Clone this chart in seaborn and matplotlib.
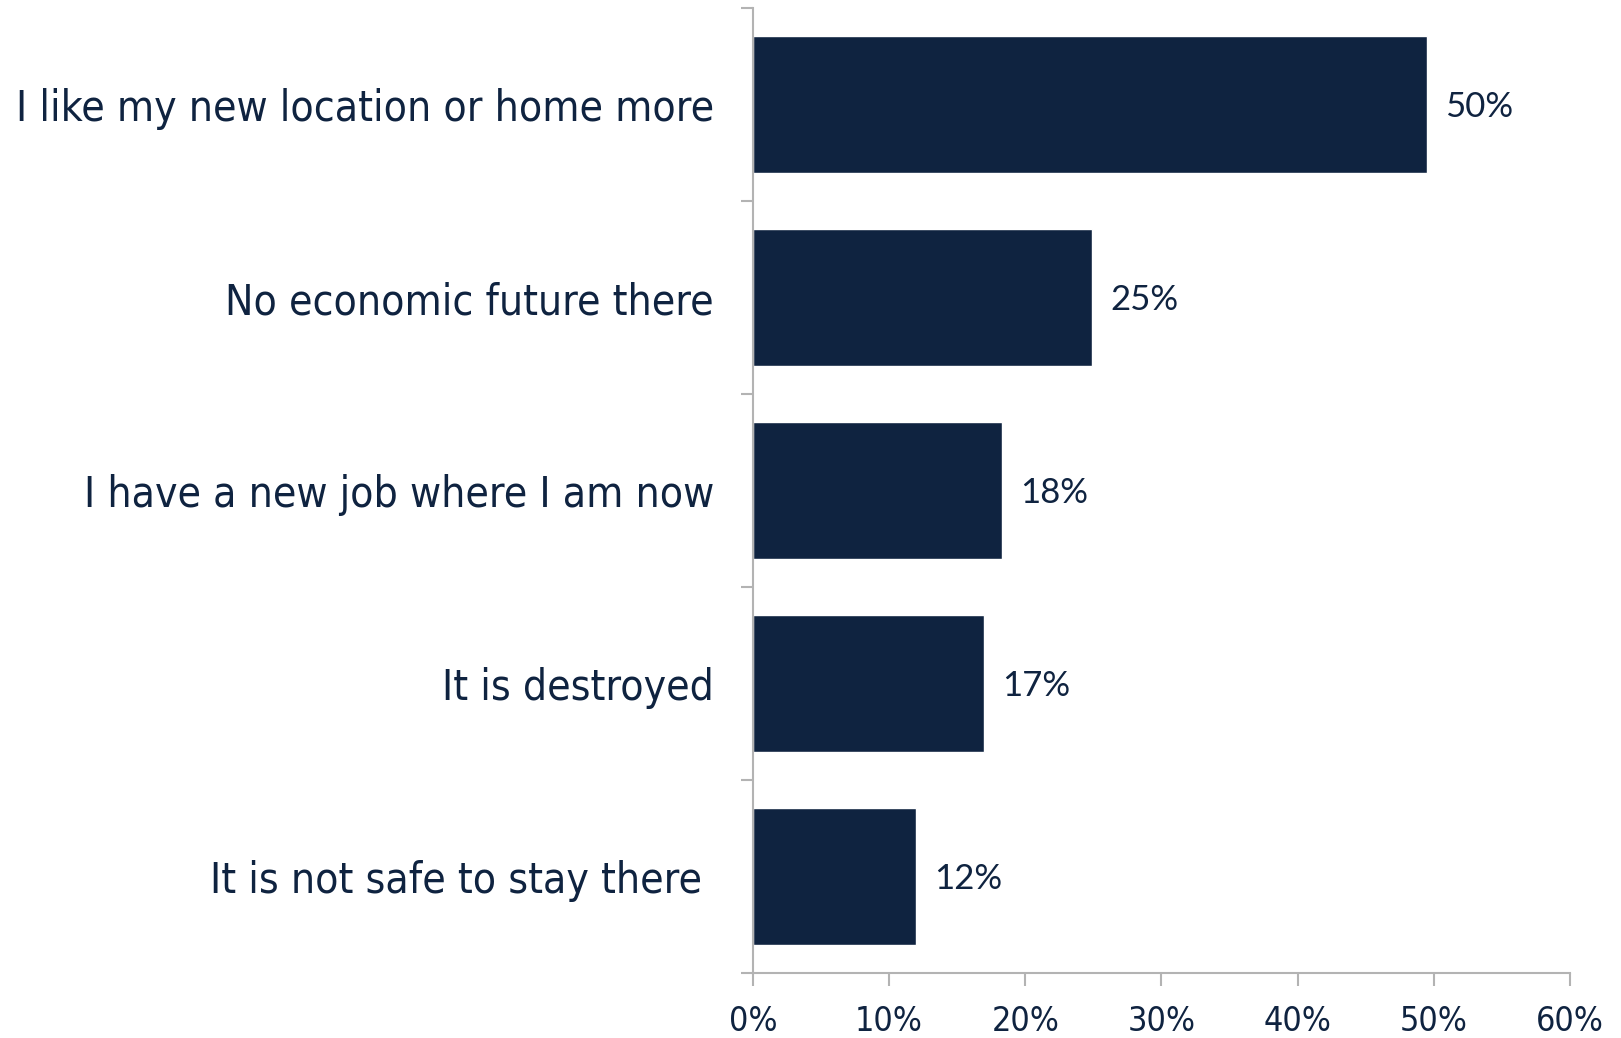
import matplotlib
matplotlib.use("Agg")
import matplotlib.pyplot as plt
import seaborn as sns
import pandas as pd
from matplotlib.ticker import FuncFormatter

categories = [
    "I like my new location or home more",
    "No economic future there",
    "I have a new job where I am now",
    "It is destroyed",
    "It is not safe to stay there ",
]
values = [49.5, 24.9, 18.3, 17.0, 12.0]
value_labels = ["50%", "25%", "18%", "17%", "12%"]
x_ticks = [0, 10, 20, 30, 40, 50, 60]

sns.set_theme(style="white")
plt.rcParams['font.family'] = ['DejaVu Sans']

bar_color = "#0f2340"
text_color = "#0f2340"
spine_color = "#b3b3b3"

df = pd.DataFrame({"category": categories, "value": values})

fig = plt.figure(figsize=(16.21, 10.38), dpi=100)
ax = fig.add_axes([0.4645, 0.0626, 0.504, 0.9297])
sns.barplot(data=df, y="category", x="value", color=bar_color, width=0.71,
            saturation=1, ax=ax, orient="h")

ax.set_xlim(0, 60)
ax.set_ylim(len(categories) - 0.5, -0.5)
ax.set_xticks(x_ticks)
ax.xaxis.set_major_formatter(FuncFormatter(lambda v, p: f"{int(v)}%"))
ax.set_yticks([i - 0.5 for i in range(len(categories) + 1)], minor=True)
ax.set_xlabel("")
ax.set_ylabel("")

for s in ["top", "right"]:
    ax.spines[s].set_visible(False)
for s in ["left", "bottom"]:
    ax.spines[s].set_color(spine_color)
    ax.spines[s].set_linewidth(1.5)

ax.tick_params(axis="y", which="major", length=0, pad=28, labelsize=30.5,
               labelcolor=text_color)
ax.tick_params(axis="y", which="minor", length=9, width=1.5, color=spine_color,
               left=True)
ax.tick_params(axis="x", which="major", length=9, width=1.5, color=spine_color,
               bottom=True, pad=14, labelsize=24.5, labelcolor=text_color)
for lab in ax.get_yticklabels() + ax.get_xticklabels():
    lab.set_fontstretch("condensed")

for i, (v, lab) in enumerate(zip(values, value_labels)):
    ax.annotate(lab, xy=(v, i), xytext=(13, -2), textcoords="offset points",
                va="center", ha="left", fontsize=25, color=text_color,
                family="Lato")

fig.savefig("out.png", dpi=100, facecolor="white")
